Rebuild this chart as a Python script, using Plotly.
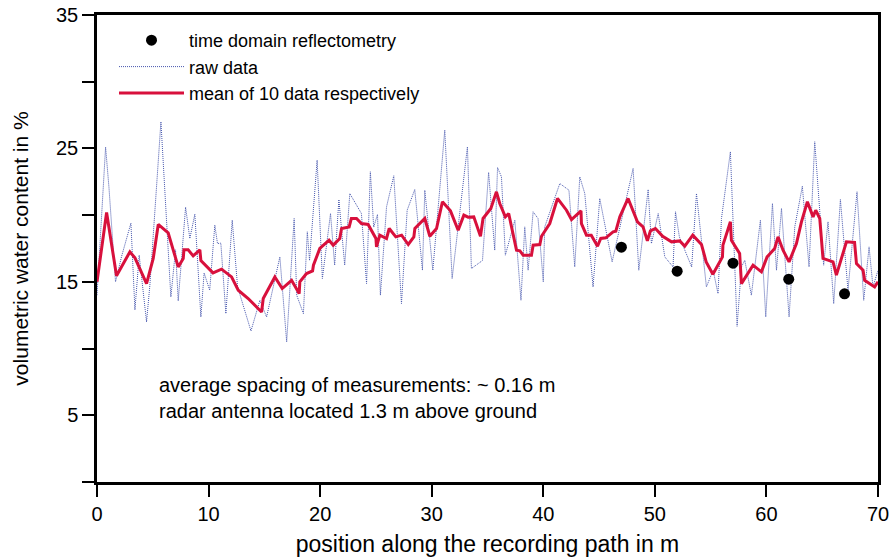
import plotly.graph_objects as go

# ---- data ----
raw_x = [0.0, 0.77, 1.07, 1.66, 2.2, 3.04, 3.4, 3.78, 4.44, 4.74, 5.73, 6.08, 6.62, 7.04, 7.28, 7.94, 8.32, 8.77,
         9.31, 9.6, 10.1, 10.56, 10.8, 11.1, 11.55, 12.12, 12.6, 13.8, 14.6, 15.2, 16.39, 17.0, 17.67, 17.9, 18.5,
         18.85, 19.05, 19.73, 20.2, 20.93, 21.3, 21.68, 22.2, 22.66, 23.7, 24.16, 24.5, 24.8, 25.14, 25.4, 25.95,
         26.6, 27.29, 27.8, 28.48, 29.17, 29.38, 30.1, 31.17, 31.83, 32.4, 33.2, 33.56, 34.55, 35.1, 35.65, 35.9,
         36.25, 36.6, 37.45, 38.0, 38.34, 38.64, 39.09, 39.53, 40.0, 40.13, 41.48, 42.3, 42.82, 43.27, 43.72,
         44.46, 45.06, 46.17, 48.05, 48.56, 49.4, 49.69, 50.3, 50.89, 51.63, 51.85, 52.2, 53.3, 53.73, 54.62,
         55.22, 55.66, 55.97, 56.77, 57.37, 57.76, 58.06, 58.65, 59.46, 59.94, 60.54, 60.9, 61.35, 62.03, 62.54,
         63.22, 63.82, 64.33, 64.63, 65.13, 65.52, 66.03, 66.63, 67.31, 68.12, 68.72, 69.2, 69.55, 70.0]
raw_y = [14.0, 25.1, 22.1, 15.0, 16.9, 19.4, 12.9, 17.0, 12.0, 14.75, 27.0, 22.1, 13.87, 17.4, 13.57, 20.6, 18.25,
         20.07, 12.37, 15.67, 14.37, 19.25, 17.87, 17.9, 12.62, 19.62, 14.62, 11.32, 13.62, 12.37, 16.87, 10.5,
         19.75, 14.0, 12.62, 18.75, 16.6, 24.12, 15.25, 20.12, 16.25, 21.17, 16.25, 21.62, 20.12, 14.87, 23.25,
         19.1, 20.05, 14.0, 20.62, 22.95, 13.37, 20.37, 21.92, 15.87, 21.87, 15.87, 26.37, 15.25, 19.5, 25.12,
         16.0, 16.6, 23.2, 17.37, 23.57, 22.87, 17.0, 19.62, 13.62, 19.12, 15.87, 20.25, 19.75, 15.0, 19.12,
         22.37, 21.87, 16.12, 22.87, 21.62, 14.62, 21.25, 16.5, 23.5, 15.87, 21.92, 17.87, 20.12, 16.87, 16.12,
         20.25, 18.37, 16.12, 21.62, 14.62, 15.87, 14.12, 19.75, 24.75, 11.67, 16.12, 16.62, 14.0, 19.62, 12.37,
         20.87, 15.87, 20.5, 12.37, 19.12, 22.17, 16.12, 25.5, 22.1, 16.25, 19.5, 13.37, 21.17, 14.37, 21.75,
         13.62, 17.62, 14.62, 15.87]

mean_x = [0.0, 0.86, 1.75, 2.95, 3.4, 4.44, 5.04, 5.49, 6.38, 7.28, 7.73, 7.79, 8.17, 8.62, 9.22, 9.31, 10.4,
          11.16, 12.06, 12.66, 13.55, 14.75, 14.9, 15.94, 16.6, 17.44, 18.12, 18.18, 18.78, 19.32, 19.4, 19.97,
          20.8, 21.17, 21.76, 21.92, 22.6, 22.8, 23.26, 23.7, 24.3, 25.0, 25.05, 25.35, 25.95, 26.19, 26.78, 27.3,
          27.9, 28.4, 28.49, 29.38, 29.83, 30.43, 30.96, 31.68, 32.37, 32.88, 33.26, 33.77, 34.37, 34.6, 35.3,
          35.8, 36.1, 36.6, 36.9, 37.6, 37.9, 38.2, 38.94, 39.09, 39.69, 39.84, 40.58, 41.27, 42.08, 42.53, 43.38,
          43.42, 43.87, 44.3, 44.86, 45.15, 45.6, 46.26, 46.5, 46.86, 47.6, 48.44, 48.94, 49.33, 49.6, 50.05,
          50.7, 51.5, 52.23, 52.68, 53.4, 54.18, 54.6, 55.2, 56.06, 56.1, 56.77, 56.86, 57.6, 57.76, 58.8, 59.55,
          60.06, 60.74, 61.04, 61.49, 62.03, 62.69, 63.14, 63.67, 64.18, 64.42, 64.78, 65.07, 65.97, 66.27,
          67.17, 67.9, 68.07, 68.66, 68.8, 69.7, 70.0]
mean_y = [15.0, 20.2, 15.45, 17.25, 16.8, 14.87, 16.75, 19.3, 18.67, 16.12, 16.75, 17.4, 17.4, 16.95, 17.4, 16.6,
          15.67, 15.95, 15.37, 14.37, 13.75, 12.74, 13.75, 15.37, 14.5, 15.12, 14.12, 15.0, 15.62, 15.82, 16.25,
          17.5, 18.12, 17.75, 18.25, 19.0, 19.12, 19.75, 19.75, 19.37, 19.3, 18.25, 17.62, 18.5, 18.25, 19.0,
          18.37, 18.5, 17.8, 18.37, 19.0, 19.75, 18.42, 19.0, 21.0, 20.32, 18.87, 20.0, 19.85, 19.87, 18.42,
          19.75, 20.5, 21.75, 20.87, 19.87, 20.12, 17.37, 17.32, 17.0, 17.0, 17.75, 17.8, 18.42, 19.37, 21.25,
          20.37, 19.67, 20.32, 19.37, 18.5, 18.5, 17.67, 18.25, 18.3, 18.75, 18.8, 19.87, 21.25, 19.5, 19.12,
          18.07, 18.82, 19.0, 18.42, 18.0, 18.07, 17.67, 18.5, 17.8, 16.5, 15.57, 16.87, 17.75, 19.5, 18.12,
          17.12, 14.87, 16.25, 15.75, 16.87, 17.5, 18.37, 17.37, 16.5, 17.87, 19.5, 21.0, 19.87, 20.37, 19.75,
          16.75, 16.5, 15.5, 18.0, 17.95, 16.37, 15.87, 15.12, 14.62, 15.0]

tdr_x = [47, 52, 57, 62, 67]
tdr_y = [17.6, 15.8, 16.4, 15.2, 14.1]

y_tickvals = [0, 5, 10, 15, 20, 25, 30, 35]
y_ticktext = ["", "5", "", "15", "", "25", "", "35"]
x_tickvals = [0, 10, 20, 30, 40, 50, 60, 70]

FONT = "Liberation Sans, Arial, Helvetica, sans-serif"

fig = go.Figure()
fig.add_trace(go.Scatter(x=raw_x, y=raw_y, mode="lines", name="raw data", legendrank=2,
                         line=dict(color="#4656ae", width=1, dash="1px,1px")))
fig.add_trace(go.Scatter(x=mean_x, y=mean_y, mode="lines", name="mean of 10 data respectively", legendrank=3,
                         line=dict(color="#d8103c", width=3)))
fig.add_trace(go.Scatter(x=tdr_x, y=tdr_y, mode="markers", name="time domain reflectometry", legendrank=1,
                         marker=dict(color="black", size=11, symbol="circle")))

fig.update_layout(
    width=893, height=557,
    margin=dict(l=97, r=15, t=15, b=75, autoexpand=False),
    paper_bgcolor="white", plot_bgcolor="white",
    font=dict(family=FONT, size=20, color="black"),
    showlegend=True,
    legend=dict(x=(114 - 97) / 781, y=1 - (22 - 15) / 467, xanchor="left", yanchor="top",
                bgcolor="rgba(0,0,0,0)", font=dict(size=18), traceorder="normal", itemwidth=65,
                borderwidth=0),
    xaxis=dict(range=[0, 70], tickvals=x_tickvals, ticks="outside", ticklen=12, tickwidth=2,
               tickcolor="black", showline=True, linewidth=2.5, linecolor="black", mirror=True,
               showgrid=False, zeroline=False, tickfont=dict(size=20),
               title=dict(text="position along the recording path in m", font=dict(size=23), standoff=14)),
    yaxis=dict(range=[0, 35], tickvals=y_tickvals, ticktext=y_ticktext, ticks="outside", ticklen=12,
               tickwidth=2, tickcolor="black", showline=True, linewidth=2.5, linecolor="black", mirror=True,
               showgrid=False, zeroline=False, tickfont=dict(size=20),
               title=dict(text="volumetric water content in %", font=dict(size=21), standoff=22)),
)

fig.add_annotation(x=5.37, y=7.24, xref="x", yref="y", xanchor="left", yanchor="middle", showarrow=False,
                   text="average spacing of measurements: ~ 0.16 m", font=dict(size=20))
fig.add_annotation(x=5.37, y=5.29, xref="x", yref="y", xanchor="left", yanchor="middle", showarrow=False,
                   text="radar antenna located 1.3 m above ground", font=dict(size=20))

fig.write_html("out.html")
